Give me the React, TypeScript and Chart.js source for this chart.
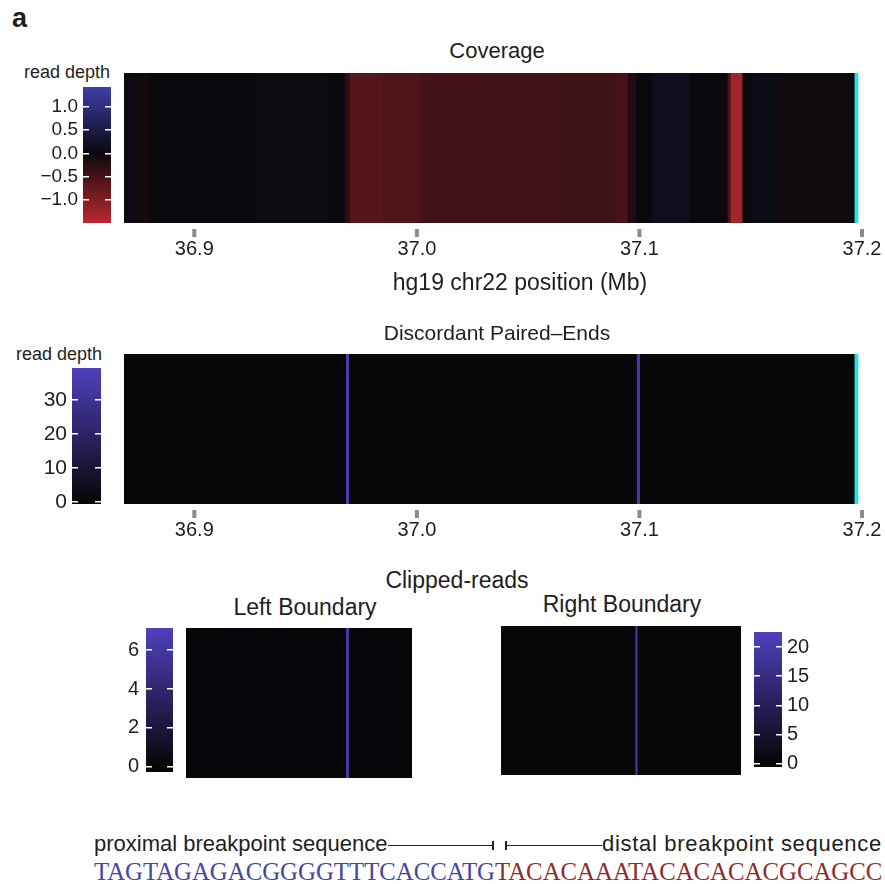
import React, { useEffect, useRef } from "react";
import { Chart, registerables } from "chart.js";

Chart.register(...registerables);

// ---------------- data ----------------
const POS_TICKS = [36.9, 37.0, 37.1, 37.2];
const POS_MIN = 36.8684;
const POS_MAX = 37.2;

// Coverage (log2 read-depth ratio) per genomic segment, Mb
const COV_EDGES = [
  36.8684, 36.8724, 36.8801, 36.9264, 36.961, 36.9677, 36.9699, 36.9848, 37.0014, 37.0239,
  37.0643, 37.089, 37.0949, 37.0985, 37.1056, 37.1227, 37.1398, 37.1411, 37.1464, 37.1504,
  37.1632, 37.1968,
];
const COV_VALUES = [
  0.05, -0.08, 0.0, 0.04, 0.0, -0.3, -0.62, -0.57, -0.48, -0.46, -0.45, -0.52, -0.2, 0.02, 0.16,
  0.02, -0.5, -1.3, 0.0, 0.08, -0.04,
];
const COV_RANGE = [-1.5, 1.43];
const COV_TICKS = [-1.0, -0.5, 0.0, 0.5, 1.0];

// Discordant paired-ends read depth
const DISC_EDGES = [36.8684, 36.9683, 36.9697, 37.099, 37.1004, 37.1968];
const DISC_VALUES = [0.3, 36, 0.3, 34, 0.3];
const DISC_RANGE = [-0.6, 39.4];
const DISC_TICKS = [0, 10, 20, 30];

// end-of-region marker (Mb)
const END_MARK = [37.1968, 37.1982];

// Clipped reads, offsets in bp around each boundary
const LEFT_EDGES = [-115, 0, 2, 47];
const LEFT_VALUES = [0.1, 6.6, 0.1];
const LEFT_RANGE = [-0.26, 7.13];
const LEFT_TICKS = [0, 2, 4, 6];

const RIGHT_EDGES = [-96, 0, 1.4, 75];
const RIGHT_VALUES = [0.3, 20, 0.3];
const RIGHT_RANGE = [-0.6, 22.6];
const RIGHT_TICKS = [0, 5, 10, 15, 20];

const SEQ_PROXIMAL = "TAGTAGAGACGGGGTTTCACCATG";
const SEQ_DISTAL = "TACACAAATACACACACGCAGCC";

// ---------------- styles ----------------
const SANS = "'Liberation Sans', Arial, Helvetica, sans-serif";
const SERIF = "'Liberation Serif', 'Times New Roman', serif";
const TEXT = "#1e1e1e";
const CYAN = "#1ae6ea";

type RGB = [number, number, number];
const mix = (a: RGB, b: RGB, t: number) =>
  `rgb(${Math.round(a[0] + (b[0] - a[0]) * t)},${Math.round(a[1] + (b[1] - a[1]) * t)},${Math.round(
    a[2] + (b[2] - a[2]) * t
  )})`;

function makeMap(range: number[], low: RGB, zero: RGB, high: RGB) {
  const [mn, mx] = range;
  return (v: number) => {
    if (v >= 0) return mix(zero, high, Math.min(1, v / mx));
    return mix(zero, low, Math.min(1, v / mn));
  };
}

const covColor = makeMap(COV_RANGE, [188, 40, 48], [10, 8, 12], [62, 62, 172]);
const COUNT_ZERO: RGB = [6, 6, 8];
const COUNT_HIGH: RGB = [80, 64, 190];
const discColor = makeMap(DISC_RANGE, COUNT_ZERO, COUNT_ZERO, COUNT_HIGH);
const leftColor = makeMap(LEFT_RANGE, COUNT_ZERO, COUNT_ZERO, COUNT_HIGH);
const rightColor = makeMap(RIGHT_RANGE, COUNT_ZERO, COUNT_ZERO, COUNT_HIGH);

// small grey tick marks placed just below the heatmap, at each x tick
const tickMarks = {
  id: "tickMarks",
  afterDraw(chart: any) {
    const s = chart.scales.x;
    if (!s || !s.options.display) return;
    const ctx = chart.ctx;
    ctx.save();
    ctx.fillStyle = "#8c8c8c";
    s.ticks.forEach((t: any) => {
      const px = s.getPixelForValue(t.value);
      ctx.fillRect(px - 2, chart.chartArea.bottom + 6, 4, 8);
    });
    ctx.restore();
  },
};

// ---------------- chart configs ----------------
function heatConfig(
  edges: number[],
  values: number[],
  colorOf: (v: number) => string,
  bg: number,
  xmin: number,
  xmax: number,
  opt: { axis: boolean; padding: any; endMark?: number[] }
): any {
  const segs = values.map((v, i) => ({ x: [edges[i], edges[i + 1]], y: "r" }));
  const datasets: any[] = [
    {
      data: [{ x: [edges[0], edges[edges.length - 1]], y: "r" }],
      backgroundColor: colorOf(bg),
      order: 3,
    },
    { data: segs, backgroundColor: values.map(colorOf), order: 2 },
  ];
  if (opt.endMark) datasets.push({ data: [{ x: opt.endMark, y: "r" }], backgroundColor: CYAN, order: 1 });
  datasets.forEach((d) => {
    d.grouped = false;
    d.barPercentage = 1;
    d.categoryPercentage = 1;
    d.borderWidth = 0;
  });
  return {
    type: "bar",
    data: { labels: ["r"], datasets },
    plugins: [tickMarks],
    options: {
      indexAxis: "y",
      responsive: false,
      animation: false,
      events: [],
      layout: { padding: opt.padding },
      plugins: { legend: { display: false }, tooltip: { enabled: false }, title: { display: false } },
      scales: {
        y: { type: "category", display: false },
        x: {
          type: "linear",
          min: xmin,
          max: xmax,
          display: opt.axis,
          position: "bottom",
          border: { display: false },
          grid: {
            drawOnChartArea: false,
            drawTicks: true,
            tickLength: 13,
            tickColor: "rgba(0,0,0,0)",
          },
          ticks: {
            font: { family: SANS, size: 20 },
            color: TEXT,
            padding: 1,
            maxRotation: 0,
            autoSkip: false,
            callback: (v: any) => Number(v).toFixed(1),
          },
          afterBuildTicks: (s: any) => {
            s.ticks = POS_TICKS.map((v) => ({ value: v }));
          },
          afterFit: (s: any) => {
            if (!opt.axis) return;
            s.height = 50;
            s.paddingLeft = 0;
            s.paddingRight = 0;
          },
        },
      },
    },
  };
}

function colorbarConfig(
  range: number[],
  ticks: number[],
  colorOf: (v: number) => string,
  side: "left" | "right",
  axisWidth: number,
  barWidth: number,
  fontSize: number,
  pad: number,
  fmt: (v: number) => string,
  vpad: number
): any {
  const [mn, mx] = range;
  return {
    type: "bar",
    data: {
      labels: ["c"],
      datasets: [
        {
          data: [[mn, mx]],
          barPercentage: 1,
          categoryPercentage: 1,
          borderWidth: 0,
          backgroundColor: (ctx: any) => {
            const chart = ctx.chart;
            const ys = chart.scales && chart.scales.y;
            if (!chart.chartArea || !ys) return colorOf(0);
            const y0 = ys.getPixelForValue(mn);
            const y1 = ys.getPixelForValue(mx);
            const g = chart.ctx.createLinearGradient(0, y0, 0, y1);
            const stops = [mn, 0, mx].filter((v, i, a) => a.indexOf(v) === i);
            stops.forEach((v) => {
              const f = (v - mn) / (mx - mn);
              if (f >= 0 && f <= 1) g.addColorStop(f, colorOf(v));
            });
            return g;
          },
        },
      ],
    },
    options: {
      responsive: false,
      animation: false,
      events: [],
      layout: { padding: { top: vpad, bottom: vpad, left: 0, right: 0 } },
      plugins: { legend: { display: false }, tooltip: { enabled: false }, title: { display: false } },
      scales: {
        x: { display: false },
        y: {
          type: "linear",
          min: mn,
          max: mx,
          position: side,
          border: { display: false, dash: [6, barWidth - 12] },
          grid: { drawTicks: false, drawOnChartArea: true, color: "#ffffff", lineWidth: 1.5, z: 1 },
          ticks: {
            font: { family: SANS, size: fontSize },
            color: TEXT,
            padding: pad,
            callback: (v: any) => fmt(Number(v)),
          },
          afterBuildTicks: (s: any) => {
            s.ticks = ticks.map((v) => ({ value: v }));
          },
          afterFit: (s: any) => {
            s.width = axisWidth;
            s.paddingTop = 0;
            s.paddingBottom = 0;
          },
        },
      },
    },
  };
}

const fmt1 = (v: number) => v.toFixed(1).replace("-", "\u2212");
const fmt0 = (v: number) => String(Math.round(v));

// ---------------- components ----------------
function ChartBox({ x, y, w, h, make }: { x: number; y: number; w: number; h: number; make: () => any }) {
  const ref = useRef<HTMLCanvasElement | null>(null);
  useEffect(() => {
    const chart = new Chart(ref.current as HTMLCanvasElement, make());
    return () => chart.destroy();
  }, []);
  return (
    <canvas
      ref={ref}
      width={w}
      height={h}
      style={{ position: "absolute", left: x, top: y, width: w, height: h, display: "block" }}
    />
  );
}

function Txt({
  x,
  base,
  size,
  children,
  align = "left",
  color = TEXT,
  family = SANS,
  weight = 400,
  spacing = 0,
}: {
  x: number;
  base: number;
  size: number;
  children: any;
  align?: "left" | "center" | "right";
  color?: string;
  family?: string;
  weight?: number;
  spacing?: number;
}) {
  const transform = align === "center" ? "translateX(-50%)" : align === "right" ? "translateX(-100%)" : undefined;
  return (
    <div
      style={{
        position: "absolute",
        left: x,
        top: base - size * 0.846,
        fontSize: size,
        lineHeight: `${size}px`,
        fontFamily: family,
        fontWeight: weight,
        whiteSpace: "nowrap",
        letterSpacing: spacing,
        transform,
        color,
      }}
    >
      {children}
    </div>
  );
}

const Line = ({ x1, x2, y }: { x1: number; x2: number; y: number }) => (
  <div style={{ position: "absolute", left: x1, top: y, width: x2 - x1, height: 1.3, background: "#222" }} />
);
const VTick = ({ x, y }: { x: number; y: number }) => (
  <div style={{ position: "absolute", left: x, top: y - 4.5, width: 1.5, height: 9, background: "#222" }} />
);

export default function App() {
  return (
    <div
      style={{
        position: "absolute",
        left: 0,
        top: 0,
        width: 885,
        height: 884,
        background: "#fff",
        overflow: "hidden",
      }}
    >
      <Txt x={12} base={28} size={27} weight={700}>
        a
      </Txt>

      {/* Coverage */}
      <Txt x={497} base={59} size={22} align="center">
        Coverage
      </Txt>
      <Txt x={110} base={78} size={18} align="right">
        read depth
      </Txt>
      <ChartBox
        x={20}
        y={72}
        w={91}
        h={166}
        make={() => colorbarConfig(COV_RANGE, COV_TICKS, covColor, "left", 63, 28, 19, 5, fmt1, 15)}
      />
      <ChartBox
        x={104}
        y={73}
        w={781}
        h={200}
        make={() =>
          heatConfig(COV_EDGES, COV_VALUES, covColor, 0, POS_MIN, POS_MAX, {
            axis: true,
            padding: { left: 20, right: 23, top: 0, bottom: 0 },
            endMark: END_MARK,
          })
        }
      />
      <Txt x={520} base={290} size={23} align="center">
        hg19 chr22 position (Mb)
      </Txt>

      {/* Discordant paired-ends */}
      <Txt x={497} base={340} size={21} align="center">
        Discordant Paired–Ends
      </Txt>
      <Txt x={102} base={360} size={18} align="right">
        read depth
      </Txt>
      <ChartBox
        x={10}
        y={353}
        w={91}
        h={166}
        make={() => colorbarConfig(DISC_RANGE, DISC_TICKS, discColor, "left", 62, 29, 21, 5, fmt0, 15)}
      />
      <ChartBox
        x={104}
        y={354}
        w={781}
        h={200}
        make={() =>
          heatConfig(DISC_EDGES, DISC_VALUES, discColor, 0.3, POS_MIN, POS_MAX, {
            axis: true,
            padding: { left: 20, right: 23, top: 0, bottom: 0 },
            endMark: END_MARK,
          })
        }
      />

      {/* Clipped reads */}
      <Txt x={457} base={588} size={23} align="center">
        Clipped-reads
      </Txt>
      <Txt x={305} base={615} size={23} align="center">
        Left Boundary
      </Txt>
      <Txt x={622} base={612} size={23} align="center">
        Right Boundary
      </Txt>
      <ChartBox
        x={100}
        y={613}
        w={73}
        h={174}
        make={() => colorbarConfig(LEFT_RANGE, LEFT_TICKS, leftColor, "left", 46, 27, 20, 7, fmt0, 15)}
      />
      <ChartBox
        x={186}
        y={628}
        w={226}
        h={150}
        make={() =>
          heatConfig(LEFT_EDGES, LEFT_VALUES, leftColor, 0.1, LEFT_EDGES[0], LEFT_EDGES[LEFT_EDGES.length - 1], {
            axis: false,
            padding: 0,
          })
        }
      />
      <ChartBox
        x={501}
        y={626}
        w={240}
        h={149}
        make={() =>
          heatConfig(
            RIGHT_EDGES,
            RIGHT_VALUES,
            rightColor,
            0.3,
            RIGHT_EDGES[0],
            RIGHT_EDGES[RIGHT_EDGES.length - 1],
            { axis: false, padding: 0 }
          )
        }
      />
      <ChartBox
        x={754}
        y={617}
        w={131}
        h={165}
        make={() => colorbarConfig(RIGHT_RANGE, RIGHT_TICKS, rightColor, "right", 103, 28, 20, 5, fmt0, 15)}
      />

      {/* breakpoint annotation */}
      <Txt x={94} base={852} size={22}>
        proximal breakpoint sequence
      </Txt>
      <Line x1={388} x2={493} y={844.5} />
      <VTick x={492} y={845} />
      <VTick x={505} y={845} />
      <Line x1={505} x2={602} y={844.5} />
      <Txt x={602} base={852} size={22} spacing={0.7}>
        distal breakpoint sequence
      </Txt>
      <Txt x={94} base={881} size={24.8} family={SERIF}>
        <span style={{ color: "#46469e" }}>{SEQ_PROXIMAL}</span>
        <span style={{ color: "#8e2b2b" }}>{SEQ_DISTAL}</span>
      </Txt>
    </div>
  );
}
